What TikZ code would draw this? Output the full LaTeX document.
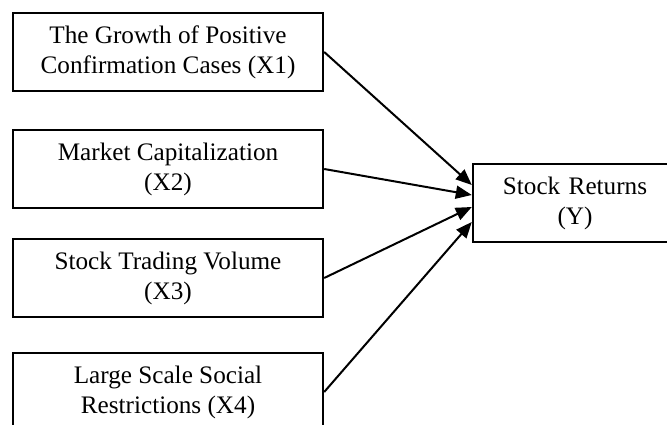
\documentclass[tikz,border=0pt]{standalone}
\usepackage{fontspec}
\setmainfont{Liberation Serif}
\usetikzlibrary{arrows.meta}
\begin{document}
\begin{tikzpicture}[x=1pt,y=1pt,
    varbox/.style={draw,line width=2.4pt,minimum width=310pt,minimum height=78pt,align=center,inner sep=0pt,font=\fontsize{25.2pt}{30pt}\selectfont},
    link/.style={line width=2pt,-{Triangle[length=16pt,width=13pt]}}]
    \useasboundingbox (0,0) rectangle (667,425);
    \clip (0,0) rectangle (667,425);
    \node[varbox] (x1) at (168,373) {The Growth of Positive\\Confirmation Cases (X1)};
    \node[varbox] (x2) at (168,256) {Market Capitalization\\(X2)};
    \node[varbox] (x3) at (168,147) {Stock Trading Volume\\(X3)};
    \node[varbox] (x4) at (168,33) {Large Scale Social\\Restrictions (X4)};
    % box runs past the right edge, text sits in its left part
    \node[varbox,minimum width=300pt,text width=300pt,align=left] (y) at (623,222) {\makebox[204pt]{Stock Returns}\\\makebox[204pt]{(Y)}};
    \draw[link] (x1.east) -- ([yshift=18pt]y.west);
    \draw[link] (x2.east) -- ([yshift=8pt]y.west);
    \draw[link] (x3.east) -- ([yshift=-4pt]y.west);
    \draw[link] (x4.east) -- ([yshift=-19pt]y.west);
\end{tikzpicture}
\end{document}
